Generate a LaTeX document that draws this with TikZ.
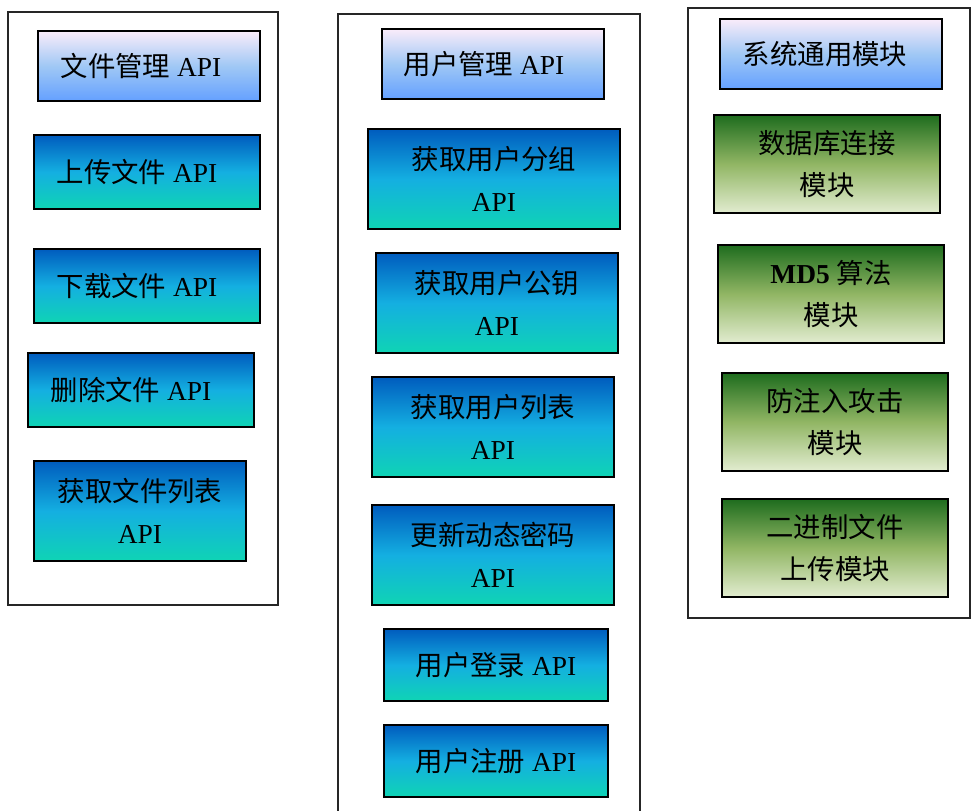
\documentclass[tikz,border=0pt]{standalone}
\usepackage{fontspec}
\setmainfont{Liberation Serif}
\newfontfamily\cjk{Noto Sans CJK SC}
\newcommand{\zh}[1]{{\cjk #1}}

\definecolor{headtop}{RGB}{250,236,250}
\definecolor{headmid}{RGB}{160,200,245}
\definecolor{headbot}{RGB}{100,160,255}
\definecolor{apitop}{RGB}{0,92,190}
\definecolor{apimid}{RGB}{20,175,225}
\definecolor{apibot}{RGB}{15,212,180}
\definecolor{modtop}{RGB}{30,108,30}
\definecolor{modmid}{RGB}{145,182,100}
\definecolor{modbot}{RGB}{226,236,208}

\tikzset{
  frame/.style={draw=black!85, line width=1.3pt},
  box/.style={draw, line width=1.3pt, align=center, inner sep=0pt,
    font=\fontsize{19.5}{30}\selectfont},
  leftish/.style={execute at end node={\hspace*{#1}}},
  headbox/.style={box, top color=headtop, bottom color=headbot, middle color=headmid,
    minimum width=5.55cm, minimum height=1.75cm},
  apibox/.style={box, top color=apitop, bottom color=apibot, middle color=apimid},
  modbox/.style={box, top color=modtop, bottom color=modbot, middle color=modmid,
    minimum width=5.65cm, minimum height=2.45cm}
}

\begin{document}
\begin{tikzpicture}

    \useasboundingbox (0,0) rectangle (24.275,-20.25);

    % frames of the three groups
    \draw[frame] (0.2,-0.3) rectangle (6.95,-15.125);
    \draw[frame] (8.45,-20.3) -- (8.45,-0.35) -- (16.0,-0.35) -- (16.0,-20.3);
    \draw[frame] (17.2,-0.2) rectangle (24.25,-15.45);

    % file API
    \node[headbox, leftish=0.4cm] (filehead) at (3.725,-1.65) {\zh{文件管理} API};
    \node[apibox, leftish=0.5cm, minimum width=5.65cm, minimum height=1.85cm] (upload) at (3.675,-4.3) {\zh{上传文件} API};
    \node[apibox, leftish=0.5cm, minimum width=5.65cm, minimum height=1.85cm] (download) at (3.675,-7.15) {\zh{下载文件} API};
    \node[apibox, leftish=0.5cm, minimum width=5.65cm, minimum height=1.85cm] (delete) at (3.525,-9.75) {\zh{删除文件} API};
    \node[apibox, minimum width=5.3cm, minimum height=2.5cm] (filelist) at (3.5,-12.775) {\zh{获取文件列表}\\API};

    % user API
    \node[headbox, leftish=0.45cm] (userhead) at (12.325,-1.6) {\zh{用户管理} API};
    \node[apibox, minimum width=6.3cm, minimum height=2.5cm] (group) at (12.35,-4.475) {\zh{获取用户分组}\\API};
    \node[apibox, minimum width=6.05cm, minimum height=2.5cm] (pubkey) at (12.425,-7.575) {\zh{获取用户公钥}\\API};
    \node[apibox, minimum width=6.05cm, minimum height=2.5cm] (userlist) at (12.325,-10.675) {\zh{获取用户列表}\\API};
    \node[apibox, minimum width=6.05cm, minimum height=2.5cm] (dynpwd) at (12.325,-13.875) {\zh{更新动态密码}\\API};
    \node[apibox, minimum width=5.6cm, minimum height=1.8cm] (login) at (12.4,-16.625) {\zh{用户登录} API};
    \node[apibox, minimum width=5.6cm, minimum height=1.8cm] (register) at (12.4,-19.025) {\zh{用户注册} API};

    % common modules
    \node[headbox, leftish=0.3cm] (syshead) at (20.775,-1.35) {\zh{系统通用模块}};
    \node[modbox] (dbconn) at (20.675,-4.1) {\zh{数据库连接}\\\zh{模块}};
    \node[modbox] (md5) at (20.775,-7.35) {\textbf{MD5} \zh{算法}\\\zh{模块}};
    \node[modbox] (inject) at (20.875,-10.55) {\zh{防注入攻击}\\\zh{模块}};
    \node[modbox] (binary) at (20.875,-13.7) {\zh{二进制文件}\\\zh{上传模块}};

\end{tikzpicture}
\end{document}
